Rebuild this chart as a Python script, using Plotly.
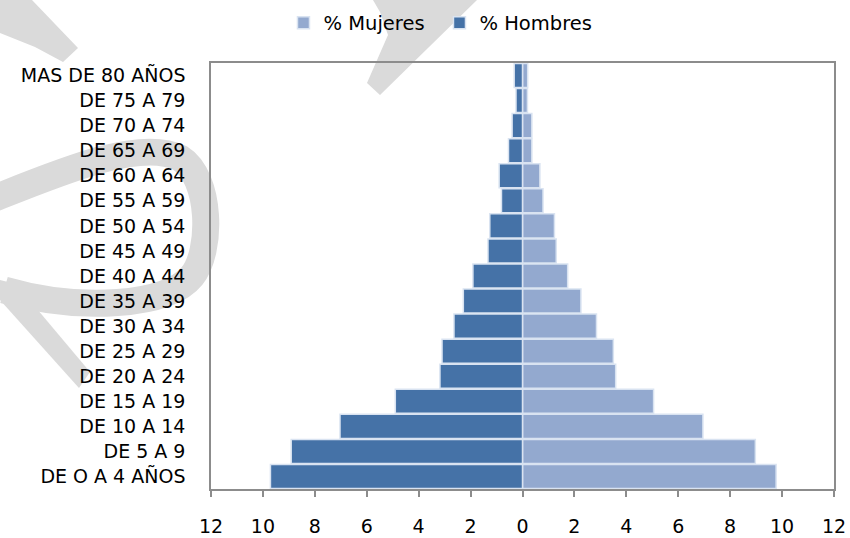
import plotly.graph_objects as go

# ---- data ----
grupos = ["DE O A 4 AÑOS", "DE 5 A 9", "DE 10 A 14", "DE 15 A 19", "DE 20 A 24",
          "DE 25 A 29", "DE 30 A 34", "DE 35 A 39", "DE 40 A 44", "DE 45 A 49",
          "DE 50 A 54", "DE 55 A 59", "DE 60 A 64", "DE 65 A 69", "DE 70 A 74",
          "DE 75 A 79", "MAS DE 80 AÑOS"]
mujeres = [9.77, 8.97, 6.95, 5.05, 3.59, 3.50, 2.85, 2.25, 1.74, 1.30,
           1.23, 0.79, 0.67, 0.36, 0.36, 0.19, 0.20]
hombres = [9.71, 8.91, 7.03, 4.90, 3.18, 3.10, 2.64, 2.28, 1.91, 1.33,
           1.26, 0.81, 0.90, 0.54, 0.40, 0.25, 0.32]
x_ticks = [-12, -10, -8, -6, -4, -2, 0, 2, 4, 6, 8, 10, 12]
x_tick_text = ["12", "10", "8", "6", "4", "2", "0", "2", "4", "6", "8", "10", "12"]

# ---- layout constants ----
W, H = 850, 538
ML, MR, MT, MB = 211, 16, 63, 49
PW, PH = W - ML - MR, H - MT - MB
FONT = "DejaVu Sans"
WM = "#DADADA"


def P(x, y):
    return "%.5f,%.5f" % ((x - ML) / PW, (H - MB - y) / PH)


def poly(pts):
    return "M " + " L ".join(P(x, y) for x, y in pts) + " Z"


fig = go.Figure()
fig.add_trace(go.Bar(
    y=grupos, x=mujeres, name="% Mujeres", orientation="h",
    marker=dict(color="#93A9CF", line=dict(color="#D9E3F1", width=1.5)),
))
fig.add_trace(go.Bar(
    y=grupos, x=[-v for v in hombres], name="% Hombres", orientation="h",
    marker=dict(color="#4572A7", line=dict(color="#D9E3F1", width=1.5)),
))

# watermark strokes (decorative background)
shapes = [
    dict(type="path", xref="paper", yref="paper", layer="below", line=dict(width=0),
         fillcolor=WM, path=poly([(0, 0), (32, 0), (78, 48), (63, 62), (35, 47), (0, 33)])),
    dict(type="path", xref="paper", yref="paper", layer="below", line=dict(width=0),
         fillcolor=WM, path=poly([(373, 0), (477, 0), (380, 95), (367, 83), (388, 35), (380, 12)])),
    dict(type="path", xref="paper", yref="paper", layer="below",
         line=dict(color=WM, width=27), fillcolor="rgba(0,0,0,0)",
         path="M " + P(-10, 200) + " C " + P(60, 172) + " " + P(140, 138) + " " + P(180, 158)
              + " C " + P(212, 178) + " " + P(212, 252) + " " + P(192, 276)
              + " C " + P(168, 306) + " " + P(80, 312) + " " + P(4, 290)),
    dict(type="path", xref="paper", yref="paper", layer="below", line=dict(width=0),
         fillcolor=WM, path=poly([(0, 280), (16, 284), (90, 372), (79, 388), (0, 300)])),
]

fig.update_layout(
    width=W, height=H,
    margin=dict(l=ML, r=MR, t=MT, b=MB),
    paper_bgcolor="white", plot_bgcolor="rgba(0,0,0,0)",
    barmode="overlay", bargap=0.04,
    font=dict(family=FONT, color="#000000"),
    shapes=shapes,
    showlegend=True,
    legend=dict(orientation="h", xref="container", yref="container",
                x=0.3335, xanchor="left", y=0.957, yanchor="middle",
                entrywidth=111, entrywidthmode="pixels",
                font=dict(family=FONT, size=19.5, color="#000000"),
                traceorder="normal", bgcolor="rgba(0,0,0,0)"),
    xaxis=dict(range=[-12, 12], tickvals=x_ticks, ticktext=x_tick_text,
               showgrid=False, zeroline=True, zerolinecolor="#8C8C8C", zerolinewidth=1.5,
               showline=True, linecolor="#8C8C8C", linewidth=1.5, mirror=True,
               ticks="outside", ticklen=6, tickwidth=1.5, tickcolor="#8C8C8C",
               ticklabelstandoff=13, layer="above traces", automargin=False,
               tickfont=dict(family=FONT, size=19, color="#000000")),
    yaxis=dict(categoryorder="array", categoryarray=grupos,
               showgrid=False, showline=True, linecolor="#8C8C8C", linewidth=1.5, mirror=True,
               ticks="", ticklabelstandoff=20, automargin=False,
               tickfont=dict(family=FONT, size=19, color="#000000")),
)

fig.write_html("out.html", config={"displayModeBar": False},
               post_script="document.body.style.margin='0px';document.body.style.overflow='hidden';")
